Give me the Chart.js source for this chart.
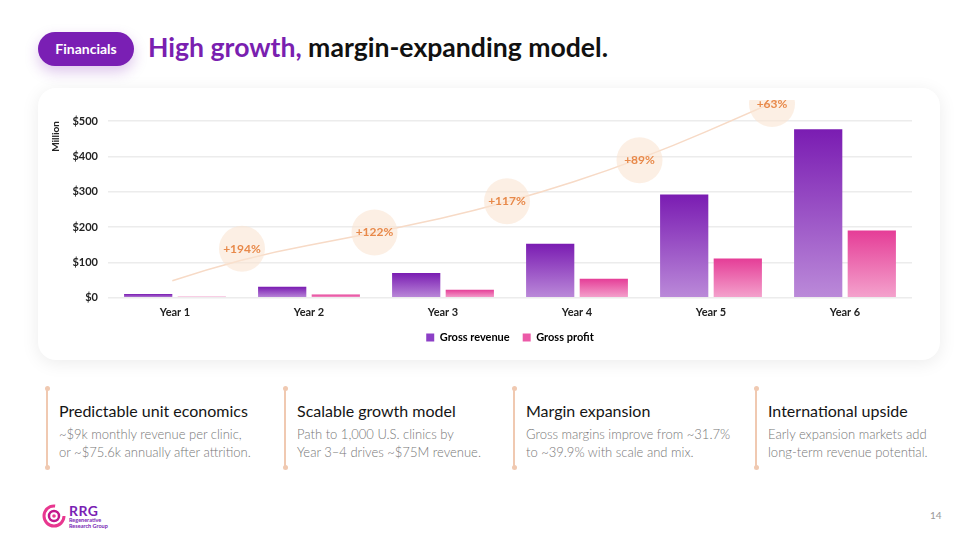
<!DOCTYPE html>
<html>
<head>
<meta charset="utf-8">
<script src="https://cdn.jsdelivr.net/npm/chart.js@4.4.1/dist/chart.umd.min.js"></script>
<style>
  html, body { margin: 0; padding: 0; background: #fff; }
  body { width: 980px; height: 551px; position: relative; overflow: hidden; font-family: Lato, 'Open Sans', sans-serif; }
  .pill { position: absolute; left: 38px; top: 32px; width: 96px; height: 34px; border-radius: 17px;
          background: #7a1fb4; color: #fff; font: bold 14px Lato, sans-serif; line-height: 34px; text-align: center;
          box-shadow: 0 6px 14px rgba(122,31,180,0.25); }
  .title { position: absolute; left: 148px; top: 31px; font: bold 26.6px Lato, sans-serif; color: #111; white-space: nowrap; }
  .title span { color: #7a1fb0; }
  .card { position: absolute; left: 38px; top: 88px; width: 902px; height: 272px; border-radius: 18px; background: #fff;
          box-shadow: 0 3px 18px rgba(0,0,0,0.08); }
  #wrap { position: absolute; left: 40px; top: 100px; width: 880px; height: 254px; }
  .note { position: absolute; top: 388px; height: 80px; }
  .note .bar { position: absolute; left: 0; top: 0; width: 2px; height: 80px; background: #f0c9b1; }
  .note .bar:before, .note .bar:after { content: ''; position: absolute; left: -1.5px; width: 5px; height: 5px; border-radius: 50%; background: #f0c9b1; }
  .note .bar:before { top: -2px; } .note .bar:after { bottom: -2px; }
  .note h3 { position: absolute; left: 13px; top: 13px; margin: 0; font: 400 16px Lato, sans-serif; color: #151515; white-space: nowrap; }
  .note p { position: absolute; left: 13px; top: 37px; margin: 0; font: 300 13px Lato, sans-serif; line-height: 18px; color: #777; white-space: nowrap; }
  .logo { position: absolute; left: 42px; top: 503px; }
  .logo .rrg { position: absolute; left: 27px; top: -1px; font: bold 14px Lato, sans-serif; color: #7a1fb4; letter-spacing: 0.5px; }
  .logo .sub { position: absolute; left: 27px; top: 14px; font: bold 5.5px Lato, sans-serif; color: #7a1fb4; line-height: 6px; white-space: nowrap; }
  .page { position: absolute; left: 930px; top: 509px; font: 10px Lato, sans-serif; color: #999; }
</style>
</head>
<body>
<div class="pill">Financials</div>
<div class="title"><span>High growth,</span> margin-expanding model.</div>
<div class="card"></div>
<div id="wrap"><canvas id="chart"></canvas></div>

<div class="note" style="left:46px"><div class="bar"></div><h3>Predictable unit economics</h3><p>~$9k monthly revenue per clinic,<br>or ~$75.6k annually after attrition.</p></div>
<div class="note" style="left:284px"><div class="bar"></div><h3>Scalable growth model</h3><p>Path to 1,000 U.S. clinics by<br>Year 3–4 drives ~$75M revenue.</p></div>
<div class="note" style="left:513px"><div class="bar"></div><h3>Margin expansion</h3><p>Gross margins improve from ~31.7%<br>to ~39.9% with scale and mix.</p></div>
<div class="note" style="left:755px"><div class="bar"></div><h3>International upside</h3><p>Early expansion markets add<br>long-term revenue potential.</p></div>

<div class="logo">
  <svg width="26" height="26" viewBox="0 0 26 26">
    <circle cx="12" cy="13" r="10" fill="none" stroke="#e8378f" stroke-width="3" stroke-dasharray="48 15"/>
    <circle cx="12" cy="13" r="5" fill="none" stroke="#c2188c" stroke-width="2.5"/>
    <circle cx="12" cy="13" r="1.8" fill="#e8378f"/>
  </svg>
  <div class="rrg">RRG</div>
  <div class="sub">Regenerative<br>Research Group</div>
</div>
<div class="page">14</div>

<script>
const years = ['Year 1', 'Year 2', 'Year 3', 'Year 4', 'Year 5', 'Year 6'];
const grossRevenue = [10.5, 31, 70, 153, 292, 477];
const grossProfit = [3.3, 9.5, 23, 54, 111, 190];
const yTicks = [0, 100, 200, 300, 400, 500];

// growth bubbles, placed between years (value = $M height of bubble)
const growthLabels = ['+194%', '+122%', '+117%', '+89%', '+63%'];
const growthY = [139, 185, 273, 389, 548];
// trend arrow path (x in year index, y in $M)
const trendX = [-0.02, 0.5, 1.48, 2.48, 3.47, 4.44, 5.05];
const trendY = [48, 114, 182, 267, 389, 548, 653];

function barGradient(top, bottom) {
  return (ctx) => {
    const chart = ctx.chart;
    const y = chart.scales.y;
    if (!y || ctx.raw === undefined) return top;
    const y0 = y.getPixelForValue(ctx.raw);
    const y1 = y.getPixelForValue(0);
    const g = chart.ctx.createLinearGradient(0, y0, 0, y1 + 0.01);
    g.addColorStop(0, top);
    g.addColorStop(1, bottom);
    return g;
  };
}

const growthPlugin = {
  id: 'growth',
  afterDatasetsDraw(chart) {
    const { ctx, scales } = chart;
    const xs = scales.x, ys = scales.y;
    const step = xs.getPixelForValue(1) - xs.getPixelForValue(0);
    const px = i => xs.getPixelForValue(0) + i * step;
    const pts = trendX.map((v, i) => [px(v), ys.getPixelForValue(trendY[i])]);
    ctx.save();
    ctx.strokeStyle = '#f7dac6';
    ctx.lineWidth = 1.5;
    ctx.beginPath();
    ctx.moveTo(pts[0][0], pts[0][1]);
    for (let i = 1; i < pts.length - 1; i++) {
      const mx = (pts[i][0] + pts[i + 1][0]) / 2, my = (pts[i][1] + pts[i + 1][1]) / 2;
      ctx.quadraticCurveTo(pts[i][0], pts[i][1], mx, my);
    }
    const last = pts[pts.length - 1];
    ctx.lineTo(last[0], last[1]);
    ctx.stroke();
    // arrow head
    const prev = pts[pts.length - 2];
    const ang = Math.atan2(last[1] - prev[1], last[0] - prev[0]);
    ctx.beginPath();
    ctx.moveTo(last[0] - 7 * Math.cos(ang - 0.45), last[1] - 7 * Math.sin(ang - 0.45));
    ctx.lineTo(last[0], last[1]);
    ctx.lineTo(last[0] - 7 * Math.cos(ang + 0.45), last[1] - 7 * Math.sin(ang + 0.45));
    ctx.stroke();
    // bubbles
    growthLabels.forEach((lab, i) => {
      const cx = px(i + 0.5) - i * 1.5, cy = ys.getPixelForValue(growthY[i]);
      ctx.beginPath();
      ctx.arc(cx, cy, 23, 0, Math.PI * 2);
      ctx.fillStyle = 'rgba(250, 228, 210, 0.6)';
      ctx.fill();
      ctx.fillStyle = '#e8894a';
      ctx.font = 'bold 12px Lato, sans-serif';
      ctx.textAlign = 'center';
      ctx.textBaseline = 'middle';
      ctx.fillText(lab, cx, cy);
    });
    ctx.restore();
  }
};

new Chart(document.getElementById('chart'), {
  type: 'bar',
  data: {
    labels: years,
    datasets: [
      { label: 'Gross revenue', data: grossRevenue, backgroundColor: barGradient('#7a1cb2', '#bb8ad9') },
      { label: 'Gross profit', data: grossProfit, backgroundColor: barGradient('#e53d97', '#f4a3cd') }
    ]
  },
  options: {
    responsive: true,
    maintainAspectRatio: false,
    animation: false,
    layout: { padding: { top: 21, right: 8, left: 10, bottom: 1 } },
    plugins: {
      tooltip: { enabled: false },
      legend: {
        position: 'bottom',
        fullSize: false,
        labels: {
          boxWidth: 8, boxHeight: 8, padding: 13, color: '#222',
          font: { family: 'Lato', size: 11, weight: 'bold' },
          generateLabels: () => [
            { text: 'Gross revenue', fillStyle: '#8c3fc6', strokeStyle: '#8c3fc6', lineWidth: 0, datasetIndex: 0 },
            { text: 'Gross profit', fillStyle: '#ec5aa8', strokeStyle: '#ec5aa8', lineWidth: 0, datasetIndex: 1 }
          ]
        }
      }
    },
    scales: {
      x: {
        grid: { display: false },
        border: { display: false },
        ticks: { color: '#222', padding: 0, font: { family: 'Lato', size: 11, weight: 'bold' } }
      },
      y: {
        min: 0, max: 500,
        afterBuildTicks: s => { s.ticks = yTicks.map(v => ({ value: v })); },
        afterFit: s => { s.width = 58; },
        grid: { color: '#ececec', lineWidth: 1.5, drawTicks: false },
        border: { display: false },
        ticks: { color: '#222', padding: 10, font: { family: 'Lato', size: 11, weight: 'bold' }, callback: v => '$' + v },
        title: { display: true, text: 'Million', align: 'end', color: '#222', padding: 0, font: { family: 'Lato', size: 10, weight: 'bold' } }
      }
    }
  },
  plugins: [growthPlugin]
});
</script>
</body>
</html>
